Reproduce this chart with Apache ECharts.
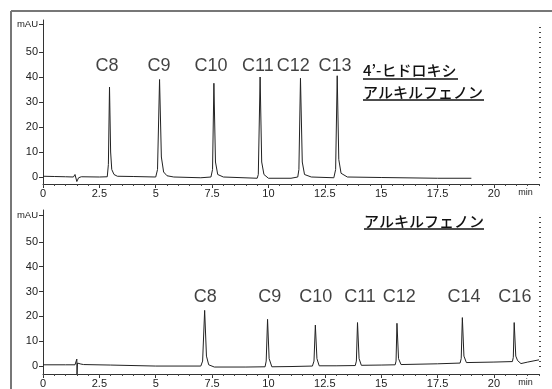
<!DOCTYPE html>
<html><head><meta charset="utf-8">
<script src="https://cdn.jsdelivr.net/npm/echarts@6/dist/echarts.min.js"></script>
<style>html,body{margin:0;padding:0;background:#fff}#c{width:552px;height:389px}</style>
</head><body><div id="c"></div>
<script>
// ---- data (time in min, absorbance in mAU) ----
const topTrace = [
  [0,0.3],[0.5,0.2],[1.0,0.1],[1.35,0],[1.42,1.0],[1.5,-1.8],[1.58,-0.3],[1.7,0.1],[2.5,0],
  [2.85,0.1],[2.9,5],[2.95,36],[3.0,10],[3.05,3],[3.15,1],[3.3,0.3],[4.0,0.2],
  [5.0,0],[5.08,3],[5.17,39],[5.25,8],[5.35,2],[5.5,0.5],[5.8,0],[7.0,-0.3],
  [7.45,0],[7.52,3],[7.58,37.5],[7.65,6],[7.75,1],[8.0,0],[9.5,-0.5],
  [9.55,1],[9.63,40],[9.7,6],[9.8,1],[10.0,-0.5],[11.0,-0.5],[11.3,0],
  [11.35,3],[11.42,39.5],[11.5,6],[11.6,1],[11.9,0],[12.9,-0.3],
  [12.98,3],[13.05,40.5],[13.12,7],[13.22,1.5],[13.5,0],[15,-0.2],[17.5,-0.5],[19.0,-0.5]
];
const bottomTrace = [
  [0,0.5],[1.0,0.5],[1.42,0.5],[1.5,2.8],[1.51,-3.2],[1.53,1.2],[1.6,1.6],[1.68,0.8],[1.8,0.6],
  [3.0,0.4],[5.0,0],[7.0,0],[7.08,2],[7.17,22.4],[7.25,4],[7.35,0.5],[7.6,-0.4],
  [9.0,-0.4],[9.85,-0.3],[9.9,2],[9.96,18.8],[10.03,3],[10.15,-0.3],[11.0,-0.2],
  [11.95,0],[12.02,2],[12.08,16.5],[12.15,3],[12.25,0.1],[13.0,0.1],
  [13.85,0.2],[13.9,2],[13.95,17.5],[14.02,3],[14.12,0.3],[15.0,0.4],
  [15.62,0.5],[15.66,2],[15.7,17.2],[15.77,3],[15.88,0.6],[17.5,0.9],
  [18.5,1.2],[18.55,3],[18.6,19.5],[18.67,4],[18.78,1.4],[20.0,1.6],
  [20.82,1.8],[20.86,3.5],[20.9,17.5],[20.97,4],[21.05,2.2],[21.2,1.0],[21.5,1.6],[22.0,2.5]
];
const topPeakNames = ['C8','C9','C10','C11','C12','C13'];
const topPeakLabelTimes = [2.84,5.14,7.45,9.53,11.1,12.95];
const topLabelLevel = 44.4;
const bottomPeakNames = ['C8','C9','C10','C11','C12','C14','C16'];
const bottomPeakLabelTimes = [7.2,10.06,12.1,14.06,15.8,18.67,20.93];
const bottomLabelLevel = 27.7;
const xMajorTicks = [0,2.5,5,7.5,10,12.5,15,17.5,20];
const yMajorTicks = [0,10,20,30,40,50];
const topTitleLines = ["4’-ヒドロキシ", "アルキルフェノン"];
const bottomTitle = "アルキルフェノン";

// ---- chart ----
const FONT = '"Liberation Sans", Arial, sans-serif';
const JFONT = '"Noto Sans CJK JP", sans-serif';
const xMinor = []; for (let i = 0; i <= 44; i++) xMinor.push(i * 0.5);
const yMinor = []; for (let i = 0; i <= 30; i++) yMinor.push(i * 2);

function mainX(grid) {
  return {
    type: 'value', gridIndex: grid, min: 0, max: 22, position: 'bottom',
    axisLine: { show: true, onZero: false, lineStyle: { color: '#333', width: 1 } },
    axisTick: { show: true, customValues: xMajorTicks, length: 4, lineStyle: { color: '#333' } },
    axisLabel: {
      show: true, customValues: xMajorTicks.concat([21.4]), margin: 4,
      color: '#222', fontFamily: FONT, fontSize: 11,
      formatter: v => v > 21 ? '{u|min}' : String(v),
      rich: { u: { fontSize: 9, fontFamily: FONT, color: '#222' } }
    },
    splitLine: { show: false }
  };
}
function minorX(grid) {
  return {
    type: 'value', gridIndex: grid, min: 0, max: 22, position: 'bottom',
    axisLine: { show: false, onZero: false },
    axisTick: { show: true, customValues: xMinor, length: 2, lineStyle: { color: '#444' } },
    axisLabel: { show: false }, splitLine: { show: false }
  };
}
function mainY(grid, min, mauVal) {
  return {
    type: 'value', gridIndex: grid, min: min, max: 62.8,
    axisLine: { show: true, onZero: false, lineStyle: { color: '#333', width: 1 } },
    axisTick: { show: true, customValues: yMajorTicks.concat([mauVal]), length: 4, lineStyle: { color: '#333' } },
    axisLabel: {
      show: true, customValues: yMajorTicks.concat([mauVal]), margin: 5,
      color: '#222', fontFamily: FONT, fontSize: 11,
      formatter: v => v > 55 ? '{u|mAU}' : String(v),
      rich: { u: { fontSize: 9.5, fontFamily: FONT, color: '#222' } }
    },
    splitLine: { show: false }
  };
}
function minorY(grid, min) {
  return {
    type: 'value', gridIndex: grid, min: min, max: 62.8,
    axisLine: { show: false, onZero: false },
    axisTick: { show: true, customValues: yMinor, length: 2, lineStyle: { color: '#444' } },
    axisLabel: { show: false }, splitLine: { show: false }
  };
}
function labelSeries(xi, yi, names, times, level) {
  return {
    type: 'scatter', xAxisIndex: xi, yAxisIndex: yi, symbolSize: 0, silent: true,
    data: names.map((n, i) => ({ name: n, value: [times[i], level] })),
    label: { show: true, position: 'inside', formatter: '{b}', color: '#111', fontFamily: FONT, fontSize: 18 }
  };
}

const chart = echarts.init(document.getElementById('c'), null, { renderer: 'canvas' });
chart.setOption({
  animation: false,
  backgroundColor: '#fff',
  grid: [
    { left: 43, top: 20, width: 496, height: 164 },
    { left: 43, top: 210, width: 496, height: 165 }
  ],
  xAxis: [mainX(0), minorX(0), mainX(1), minorX(1)],
  yAxis: [mainY(0, -2.8, 61), minorY(0, -2.8), mainY(1, -3.2, 60.5), minorY(1, -3.2)],
  series: [
    { type: 'line', xAxisIndex: 0, yAxisIndex: 0, data: topTrace, showSymbol: false,
      lineStyle: { color: '#222', width: 1 } },
    { type: 'line', xAxisIndex: 2, yAxisIndex: 2, data: bottomTrace, showSymbol: false,
      lineStyle: { color: '#222', width: 1 } },
    labelSeries(0, 0, topPeakNames, topPeakLabelTimes, topLabelLevel),
    labelSeries(2, 2, bottomPeakNames, bottomPeakLabelTimes, bottomLabelLevel)
  ],
  graphic: [
    { type: 'line', shape: { x1: 11, y1: 11, x2: 552, y2: 11 }, style: { stroke: '#777', lineWidth: 2 } },
    { type: 'line', shape: { x1: 11, y1: 11, x2: 11, y2: 389 }, style: { stroke: '#777', lineWidth: 2 } },
    { type: 'text', x: 363, y: 70, style: { text: topTitleLines[0], font: '500 15px ' + JFONT, fill: '#111', verticalAlign: 'middle' } },
    { type: 'line', shape: { x1: 363, y1: 79, x2: 458, y2: 79 }, style: { stroke: '#111', lineWidth: 1.5 } },
    { type: 'text', x: 363, y: 92, style: { text: topTitleLines[1], font: '500 15px ' + JFONT, fill: '#111', verticalAlign: 'middle' } },
    { type: 'line', shape: { x1: 363, y1: 100, x2: 484, y2: 100 }, style: { stroke: '#111', lineWidth: 1.5 } },
    { type: 'text', x: 364, y: 221, style: { text: bottomTitle, font: '500 15px ' + JFONT, fill: '#111', verticalAlign: 'middle' } },
    { type: 'line', shape: { x1: 364, y1: 229, x2: 484, y2: 229 }, style: { stroke: '#111', lineWidth: 1.5 } }
  ]
});
</script></body></html>
